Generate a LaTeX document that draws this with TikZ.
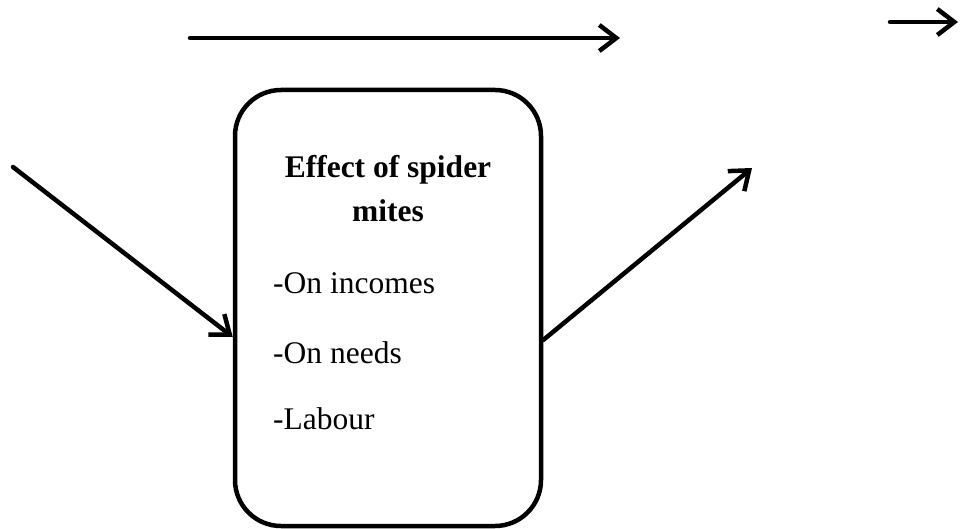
\documentclass[tikz,border=0pt]{standalone}
\usepackage{fontspec}
\setmainfont{Liberation Serif}
\usepackage{tikz}
\usetikzlibrary{arrows.meta}

\begin{document}
\begin{tikzpicture}[
   x=1pt, y=-1pt,
   every node/.append style={font=\fontsize{31.5}{38}\selectfont},
   mitebox/.style={draw, line width=4.5pt, rounded corners=46pt, minimum width=306pt, minimum height=436pt},
   flowarrow/.style={line width=4.5pt, line cap=round, -{Straight Barb[length=17pt,width=26pt,line width=4.5pt]}},
   boxitem/.style={anchor=base west, inner sep=0pt}
]
\useasboundingbox (0,0) rectangle (966,529);

\node[mitebox] (box) at (388,308) {};
\node[anchor=base, inner sep=0pt, align=center, font=\fontsize{31.5}{44}\selectfont\bfseries] (title) at (388,222) {Effect of spider\\mites};
\node[boxitem] (incomes) at (273,294) {-On incomes};
\node[boxitem] (needs) at (273,363) {-On needs};
\node[boxitem] (labour) at (273,429) {-Labour};

% arrows round the box
\coordinate (topa) at (190,38);
\coordinate (topb) at (620,38);
\coordinate (cornera) at (890,22);
\coordinate (cornerb) at (958,22);
\coordinate (inleft) at (13,167);
\coordinate (outright) at (752,168);

\draw[flowarrow] (topa) -- (topb);
\draw[flowarrow] (cornera) -- (cornerb);
\draw[flowarrow] (inleft) -- ([yshift=-29pt]box.west);
\draw[flowarrow] ([yshift=-32pt]box.east) -- (outright);
\end{tikzpicture}
\end{document}
